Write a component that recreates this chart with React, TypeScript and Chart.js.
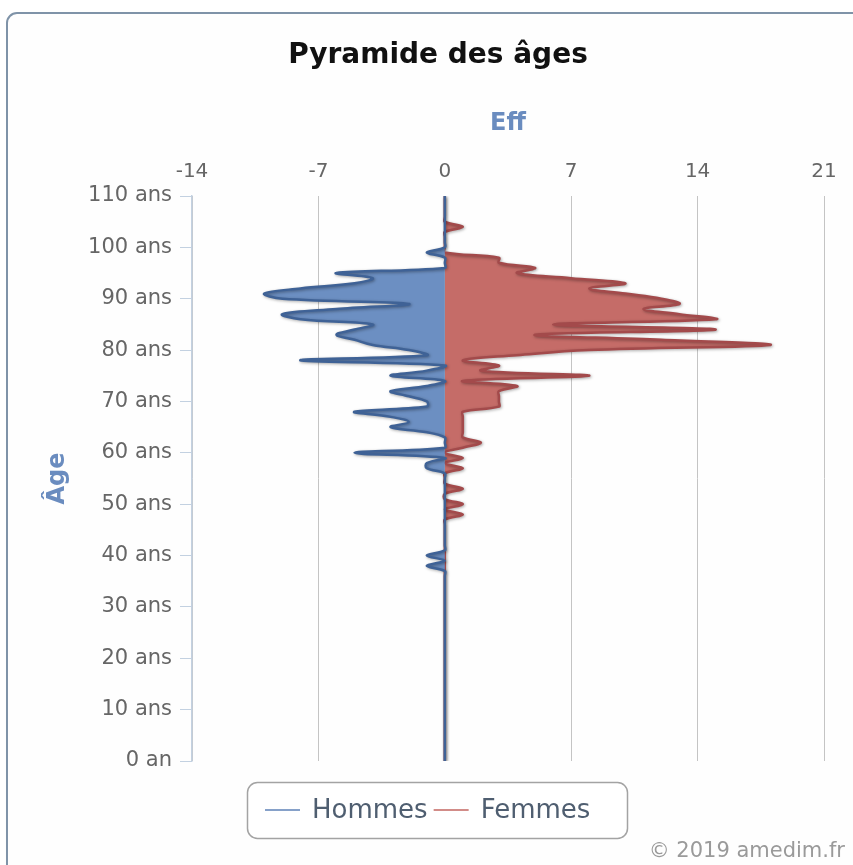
import React, { useEffect, useRef } from 'react';
import { Chart, registerables } from 'chart.js';

Chart.register(...registerables);

// Ages (index axis), 0 .. 110
const AGES = [
  0, 1, 2, 3, 4, 5, 6, 7, 8, 9,
  10, 11, 12, 13, 14, 15, 16, 17, 18, 19,
  20, 21, 22, 23, 24, 25, 26, 27, 28, 29,
  30, 31, 32, 33, 34, 35, 36, 37, 38, 39,
  40, 41, 42, 43, 44, 45, 46, 47, 48, 49,
  50, 51, 52, 53, 54, 55, 56, 57, 58, 59,
  60, 61, 62, 63, 64, 65, 66, 67, 68, 69,
  70, 71, 72, 73, 74, 75, 76, 77, 78, 79,
  80, 81, 82, 83, 84, 85, 86, 87, 88, 89,
  90, 91, 92, 93, 94, 95, 96, 97, 98, 99,
  100, 101, 102, 103, 104, 105, 106, 107, 108, 109,
  110,
];

// Hommes (negative = left side), one value per age
const HOMMES = [
  0, 0, 0, 0, 0, 0, 0, 0, 0, 0,
  0, 0, 0, 0, 0, 0, 0, 0, 0, 0,
  0, 0, 0, 0, 0, 0, 0, 0, 0, 0,
  0, 0, 0, 0, 0, 0, 0, 0, -1, 0,
  -1, 0, 0, 0, 0, 0, 0, 0, 0, 0,
  0, 0, 0, 0, 0, 0, 0, -1, -1, 0,
  -5, 0, 0, 0, -1, -3, -2, -3, -5, -1,
  -1, -2, -3, -1, 0, -3, -1, 0, -8, -1,
  -2, -4, -5, -6, -5, -4, -8, -9, -6, -2,
  -9, -10, -8, -5, -4, -6, 0, 0, 0, -1,
  0, 0, 0, 0, 0, 0, 0, 0, 0, 0,
  0,
];

// Femmes (positive = right side), one value per age
const FEMMES = [
  0, 0, 0, 0, 0, 0, 0, 0, 0, 0,
  0, 0, 0, 0, 0, 0, 0, 0, 0, 0,
  0, 0, 0, 0, 0, 0, 0, 0, 0, 0,
  0, 0, 0, 0, 0, 0, 0, 0, 0, 0,
  0, 0, 0, 0, 0, 0, 0, 0, 1, 0,
  1, 0, 0, 1, 0, 0, 0, 1, 0, 1,
  0, 1, 2, 1, 1, 1, 1, 1, 1, 3,
  3, 3, 3, 4, 1, 8, 2, 3, 1, 4,
  8, 18, 12, 5, 15, 6, 15, 13, 11, 13,
  12, 10, 8, 10, 7, 4, 5, 3, 3, 0,
  0, 0, 0, 0, 1, 0, 0, 0, 0, 0,
  0,
];

const X_MIN = -14;
const X_MAX = 21;
const X_STEP = 7;
const Y_MIN = 0;
const Y_MAX = 110;
const Y_STEP = 10;

const TITLE = 'Pyramide des âges';
const X_TITLE = 'Eff';
const Y_TITLE = 'Âge';
const CREDIT = '© 2019 amedim.fr';

const FONT = 'DejaVu Sans';

function roundRect(ctx: CanvasRenderingContext2D, x: number, y: number, w: number, h: number, r: number) {
  ctx.beginPath();
  ctx.moveTo(x + r, y);
  ctx.lineTo(x + w - r, y);
  ctx.arcTo(x + w, y, x + w, y + r, r);
  ctx.lineTo(x + w, y + h - r);
  ctx.arcTo(x + w, y + h, x + w - r, y + h, r);
  ctx.lineTo(x + r, y + h);
  ctx.arcTo(x, y + h, x, y + h - r, r);
  ctx.lineTo(x, y + r);
  ctx.arcTo(x, y, x + r, y, r);
  ctx.closePath();
}

const shadowPlugin = {
  id: 'lineShadow',
  beforeDatasetDraw(chart: any) {
    const ctx = chart.ctx;
    ctx.save();
    ctx.shadowColor = 'rgba(0,0,0,0.35)';
    ctx.shadowBlur = 3;
    ctx.shadowOffsetX = 1;
    ctx.shadowOffsetY = 1;
  },
  afterDatasetDraw(chart: any) {
    chart.ctx.restore();
  },
};

const decorPlugin = {
  id: 'decor',
  beforeDraw(chart: any) {
    const ctx: CanvasRenderingContext2D = chart.ctx;
    ctx.save();
    ctx.fillStyle = '#ffffff';
    ctx.fillRect(0, 0, chart.width, chart.height);
    roundRect(ctx, 7, 13, 920, 920, 10);
    ctx.fillStyle = '#fefefe';
    ctx.fill();
    ctx.lineWidth = 2;
    ctx.strokeStyle = '#7f93a8';
    ctx.stroke();
    ctx.restore();
  },
  afterDraw(chart: any) {
    const ctx: CanvasRenderingContext2D = chart.ctx;
    ctx.save();
    // Title
    ctx.font = `bold 28px "${FONT}"`;
    ctx.fillStyle = '#111111';
    ctx.textAlign = 'center';
    ctx.textBaseline = 'middle';
    ctx.fillText(TITLE, 438, 56);

    // Legend box
    roundRect(ctx, 247.5, 782.5, 380, 56, 10);
    ctx.fillStyle = '#ffffff';
    ctx.fill();
    ctx.lineWidth = 1.5;
    ctx.strokeStyle = '#a3a3a3';
    ctx.stroke();

    ctx.font = `26px "${FONT}"`;
    ctx.textAlign = 'left';
    ctx.textBaseline = 'middle';
    let x = 265;
    const y = 810;
    chart.data.datasets.forEach((ds: any) => {
      ctx.beginPath();
      ctx.moveTo(x, y);
      ctx.lineTo(x + 35, y);
      ctx.lineWidth = 2;
      ctx.strokeStyle = ds.legendColor;
      ctx.stroke();
      ctx.fillStyle = '#4f5e70';
      ctx.fillText(ds.label, x + 47, y + 1);
      x = x + 47 + ctx.measureText(ds.label).width + 6;
    });

    // Credit
    ctx.font = `21px "${FONT}"`;
    ctx.fillStyle = '#9a9a9a';
    ctx.textAlign = 'right';
    ctx.fillText(CREDIT, 845, 852);
    ctx.restore();
  },
};

export default function App() {
  const canvasRef = useRef<HTMLCanvasElement | null>(null);

  useEffect(() => {
    const canvas = canvasRef.current;
    if (!canvas) return;
    const chart = new Chart(canvas, {
      type: 'line',
      data: {
        datasets: [
          {
            label: 'Hommes',
            data: AGES.map((a, i) => ({ x: HOMMES[i], y: a })),
            borderColor: '#3f6296',
            backgroundColor: '#6c8fc2',
            legendColor: '#86a1c9',
            borderWidth: 2.5,
            pointRadius: 0,
            fill: 'origin',
            tension: 0.4,
          } as any,
          {
            label: 'Femmes',
            data: AGES.map((a, i) => ({ x: FEMMES[i], y: a })),
            borderColor: '#a34a4b',
            backgroundColor: '#c56c68',
            legendColor: '#d28c88',
            borderWidth: 2.5,
            pointRadius: 0,
            fill: 'origin',
            tension: 0.4,
          } as any,
        ],
      },
      options: {
        indexAxis: 'y',
        responsive: false,
        animation: false,
        layout: { padding: { top: 100, left: 0, right: 29, bottom: 104 } },
        plugins: {
          legend: { display: false },
          title: { display: false },
          tooltip: { enabled: false },
        },
        scales: {
          x: {
            type: 'linear',
            position: 'top',
            min: X_MIN,
            max: X_MAX,
            ticks: {
              stepSize: X_STEP,
              color: '#666666',
              font: { family: FONT, size: 20 },
              padding: 12,
            },
            grid: { color: '#c4c4c4', drawTicks: false, lineWidth: 1 },
            border: { display: false },
            title: {
              display: true,
              text: X_TITLE,
              color: '#6a8cbf',
              font: { family: FONT, size: 24, weight: 'bold' },
              padding: { top: 9.6, bottom: 0 },
            },
            afterFit: (s: any) => {
              s.height = 96;
            },
          },
          y: {
            type: 'linear',
            min: Y_MIN,
            max: Y_MAX,
            ticks: {
              stepSize: Y_STEP,
              color: '#666666',
              font: { family: FONT, size: 21 },
              padding: 8,
              callback: (v: any) => (v === 0 ? '0 an' : `${v} ans`),
            },
            grid: {
              drawOnChartArea: false,
              drawTicks: true,
              tickLength: 12,
              color: '#c3d1e1',
            },
            border: { display: true, color: '#c3d1e1', width: 1.5 },
            title: {
              display: true,
              text: Y_TITLE,
              color: '#6a8cbf',
              font: { family: FONT, size: 24, weight: 'bold' },
              padding: { top: 43.6, bottom: 0 },
            },
            afterFit: (s: any) => {
              s.width = 192;
            },
          },
        },
      } as any,
      plugins: [shadowPlugin, decorPlugin],
    });
    return () => chart.destroy();
  }, []);

  return (
    <div style={{ position: 'fixed', left: 0, top: 0, width: 853, height: 865, overflow: 'hidden', background: '#fff' }}>
      <canvas ref={canvasRef} width={853} height={865} style={{ display: 'block', width: 853, height: 865 }} />
    </div>
  );
}
